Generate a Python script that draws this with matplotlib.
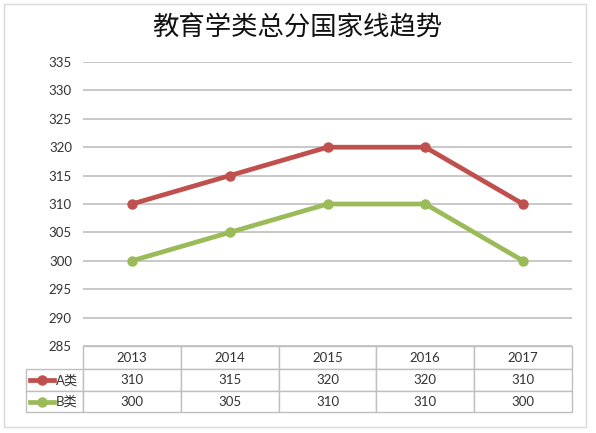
import matplotlib.pyplot as plt
from matplotlib.table import Table
from matplotlib.patches import Rectangle
from matplotlib.lines import Line2D

plt.rcParams['font.family'] = ['Lato', 'Noto Sans CJK SC', 'DejaVu Sans']

title = '教育学类总分国家线趋势'
years = ['2013', '2014', '2015', '2016', '2017']
names = ['A类', 'B类']
a_vals = [310, 315, 320, 320, 310]
b_vals = [300, 305, 310, 310, 300]
colors = ['#C0504D', '#9BBB59']
yticks = [285, 290, 295, 300, 305, 310, 315, 320, 325, 330, 335]

W, H = 596, 433
fig = plt.figure(figsize=(W / 100, H / 100), dpi=100)
fig.patch.set_facecolor('white')

# outer chart border
fig.add_artist(Rectangle((4 / W, 1 - 427 / H), 582 / W, 423 / H,
                         transform=fig.transFigure, fill=False,
                         edgecolor='#D9D9D9', lw=1))

left, right, top, bottom = 83, 572, 62, 346
ax = fig.add_axes([left / W, 1 - bottom / H, (right - left) / W, (bottom - top) / H])

x = list(range(len(years)))
for vals, c in zip([a_vals, b_vals], colors):
    ax.plot(x, vals, color=c, lw=3.4, marker='o', markersize=6.5,
            solid_capstyle='round', zorder=3)

ax.set_xlim(-0.5, len(years) - 0.5)
ax.set_ylim(285, 335)
ax.set_yticks(yticks)
ax.set_xticks([])
ax.grid(axis='y', color='#BFBFBF', lw=1.2)
ax.set_axisbelow(True)
for s in ax.spines.values():
    s.set_visible(False)
ax.tick_params(axis='y', length=0, pad=8, labelsize=9.5, labelcolor='#333333')

fig.text(297 / W, 1 - 28 / H, title, ha='center', va='center',
         fontsize=19, family=['Noto Sans CJK SC'], color='#111111')

# data table below the plot
aw = right - left
ah = bottom - top
lab_w = (left - 26) / aw
col_w = 1.0 / len(years)
row_h = [23 / ah, 22 / ah, 21 / ah]
# bbox covers only the data columns; the label column (-1) hangs to the left
tbl = Table(ax, bbox=[0, -sum(row_h), 1, sum(row_h)])
for j, yr in enumerate(years):
    tbl.add_cell(0, j, col_w, row_h[0], text=yr, loc='center',
                 edgecolor='#BFBFBF')
for i, vals in enumerate([a_vals, b_vals]):
    tbl.add_cell(i + 1, -1, lab_w, row_h[i + 1], text='', edgecolor='#BFBFBF')
    for j, v in enumerate(vals):
        tbl.add_cell(i + 1, j, col_w, row_h[i + 1], text=str(v), loc='center',
                     edgecolor='#BFBFBF')
tbl.auto_set_font_size(False)
tbl.set_fontsize(9.5)
for cell in tbl.get_celld().values():
    cell.set_linewidth(1)
    cell.get_text().set_color('#333333')
ax.add_table(tbl)

# legend keys inside the row-label cells
ybase = -row_h[0]
for i, (nm, c) in enumerate(zip(names, colors)):
    yc = ybase - sum(row_h[1:i + 1]) - row_h[i + 1] / 2
    ax.add_line(Line2D([-lab_w + 4 / aw, -lab_w + 28 / aw], [yc, yc],
                       transform=ax.transAxes, color=c, lw=3.4,
                       clip_on=False))
    ax.add_line(Line2D([-lab_w + 16 / aw], [yc], transform=ax.transAxes,
                       color=c, marker='o', markersize=6.5, clip_on=False))
    ax.text(-lab_w + 30 / aw, yc, nm, transform=ax.transAxes, ha='left',
            va='center', fontsize=9.5, color='#333333')

fig.savefig('out.png', dpi=100, facecolor='white')
